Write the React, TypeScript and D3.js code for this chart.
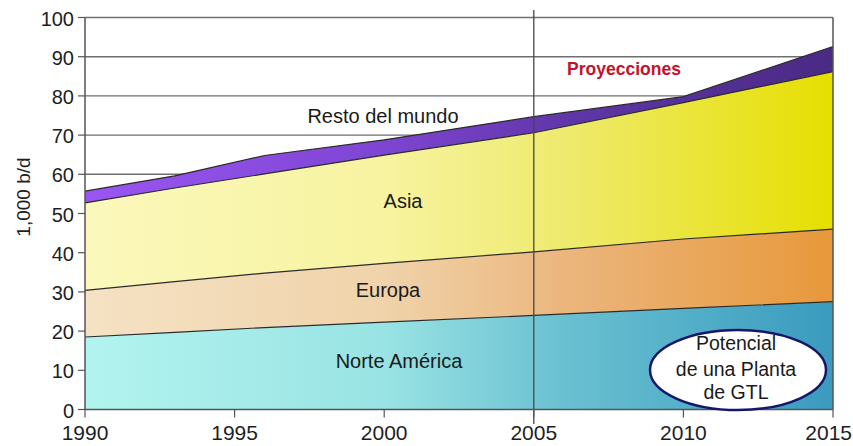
import React from "react";
import * as d3 from "d3";

// Years sampled for each regional series (thousand barrels per day)
const years = [1990, 1993, 1996, 2000, 2005, 2010, 2015];
const norteAmerica = [18.5, 19.7, 20.9, 22.3, 24.0, 25.8, 27.5];
const europa = [11.9, 12.9, 13.9, 15.0, 16.2, 17.7, 18.5];
const asia = [22.3, 23.9, 25.3, 27.6, 30.4, 34.8, 40.2];
const restoDelMundo = [3.0, 3.1, 4.7, 3.9, 4.1, 1.5, 6.4];

const seriesKeys = ["norteAmerica", "europa", "asia", "resto"];
const yTicks = [0, 10, 20, 30, 40, 50, 60, 70, 80, 90, 100];
const xTicks = [1990, 1995, 2000, 2005, 2010, 2015];
const projectionStart = 2005;

const rows = years.map((year, i) => ({
  year,
  norteAmerica: norteAmerica[i],
  europa: europa[i],
  asia: asia[i],
  resto: restoDelMundo[i],
}));

const W = 853;
const H = 446;
const left = 85;
const right = 833;
const top = 17.5;
const bottom = 409.5;

const gradients: Record<string, [number, string][]> = {
  norteAmerica: [
    [0, "#b2f4ef"],
    [0.4, "#99e3e4"],
    [0.65, "#68bfd0"],
    [1, "#3a9bbf"],
  ],
  europa: [
    [0, "#f5e2c4"],
    [0.4, "#f0d3aa"],
    [0.65, "#ebb57c"],
    [1, "#e8983a"],
  ],
  asia: [
    [0, "#fbf8bc"],
    [0.4, "#f7f3a0"],
    [0.65, "#eeea6c"],
    [1, "#e6df00"],
  ],
  resto: [
    [0, "#9a56f2"],
    [0.4, "#7e45d2"],
    [0.65, "#5f36a8"],
    [1, "#4a2a84"],
  ],
};

export default function App() {
  const x = d3.scaleLinear().domain([1990, 2015]).range([left, right]);
  const y = d3.scaleLinear().domain([0, 100]).range([bottom, top]);

  const stacked = d3.stack<any>().keys(seriesKeys)(rows);

  const area = d3
    .area<any>()
    .x((d) => x(d.data.year))
    .y0((d) => y(d[0]))
    .y1((d) => y(d[1]));

  const topLine = d3
    .line<any>()
    .x((d) => x(d.data.year))
    .y((d) => y(d[1]));

  const font = "Liberation Sans, Arial, sans-serif";
  const lastTick = xTicks[xTicks.length - 1];

  return (
    <svg
      width={W}
      height={H}
      style={{ position: "absolute", left: 0, top: 0, background: "#fff" }}
      fontFamily={font}
    >
      <defs>
        {seriesKeys.map((k) => (
          <linearGradient
            key={k}
            id={`grad-${k}`}
            gradientUnits="userSpaceOnUse"
            x1={left}
            x2={right}
            y1={0}
            y2={0}
          >
            {gradients[k].map(([o, c]) => (
              <stop key={o} offset={o} stopColor={c} />
            ))}
          </linearGradient>
        ))}
      </defs>

      {/* horizontal gridlines */}
      {yTicks
        .filter((t) => t > 0)
        .map((t) => (
          <line
            key={t}
            x1={left}
            x2={right}
            y1={y(t)}
            y2={y(t)}
            stroke="#6f6f6f"
            strokeWidth={1.4}
          />
        ))}

      {/* stacked regional areas */}
      {stacked.map((layer) => (
        <path key={layer.key} d={area(layer) || ""} fill={`url(#grad-${layer.key})`} />
      ))}
      {stacked.map((layer) => (
        <path
          key={`l-${layer.key}`}
          d={topLine(layer) || ""}
          fill="none"
          stroke="#2b2b2b"
          strokeWidth={1.2}
        />
      ))}

      {/* projection divider */}
      <line
        x1={x(projectionStart)}
        x2={x(projectionStart)}
        y1={10}
        y2={424}
        stroke="#474747"
        strokeWidth={1.3}
      />

      {/* axes */}
      <line x1={left} x2={left} y1={top} y2={bottom} stroke="#555" strokeWidth={1.5} />
      <line x1={right} x2={right} y1={top} y2={bottom} stroke="#555" strokeWidth={1.5} />
      <line x1={left} x2={right} y1={bottom} y2={bottom} stroke="#555" strokeWidth={1.5} />

      {yTicks.map((t) => (
        <g key={t}>
          <line x1={left - 7} x2={left} y1={y(t)} y2={y(t)} stroke="#555" strokeWidth={1.2} />
          <text x={74} y={y(t) + 8} textAnchor="end" fontSize={20} fill="#1e1e1e">
            {t}
          </text>
        </g>
      ))}

      {xTicks.map((t) => (
        <g key={t}>
          <line x1={x(t)} x2={x(t)} y1={bottom} y2={bottom + 8} stroke="#555" strokeWidth={1.2} />
          <text
            x={t === lastTick ? W - 1 : x(t)}
            y={440}
            textAnchor={t === lastTick ? "end" : "middle"}
            fontSize={21}
            fill="#1e1e1e"
          >
            {t}
          </text>
        </g>
      ))}

      <text
        transform={`translate(30,197) rotate(-90)`}
        textAnchor="middle"
        fontSize={19}
        fill="#1e1e1e"
      >
        1,000 b/d
      </text>

      {/* region labels */}
      <text x={383} y={123} textAnchor="middle" fontSize={20} fill="#1a1a1a">
        Resto del mundo
      </text>
      <text x={403} y={208} textAnchor="middle" fontSize={20} fill="#1a1a1a">
        Asia
      </text>
      <text x={388} y={297} textAnchor="middle" fontSize={20} fill="#1a1a1a">
        Europa
      </text>
      <text x={399} y={368} textAnchor="middle" fontSize={20} fill="#1a1a1a">
        Norte América
      </text>
      <text
        x={624}
        y={75}
        textAnchor="middle"
        fontSize={17.5}
        fontWeight="bold"
        fill="#c4122c"
      >
        Proyecciones
      </text>

      {/* GTL plant callout */}
      <ellipse cx={738} cy={370} rx={88} ry={40} fill="#fff" stroke="#16166a" strokeWidth={2.5} />
      <text textAnchor="middle" fontSize={19.5} fill="#1a1a1a">
        <tspan x={736} y={350}>Potencial</tspan>
        <tspan x={736} y={376}>de una Planta</tspan>
        <tspan x={736} y={399}>de GTL</tspan>
      </text>
    </svg>
  );
}
